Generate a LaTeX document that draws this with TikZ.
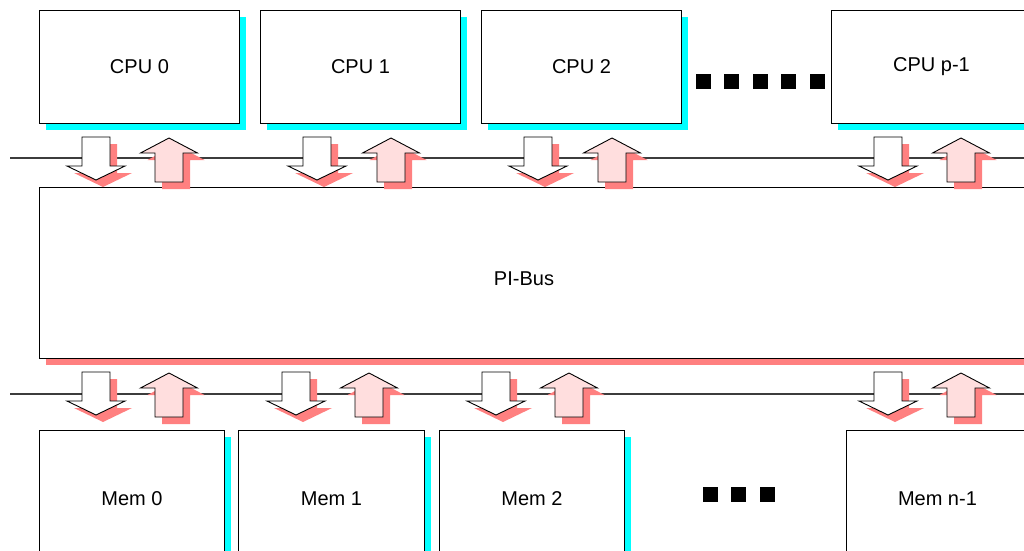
\documentclass[tikz,border=0pt]{standalone}
\usepackage{fontspec}
\setmainfont{Liberation Sans}
\usetikzlibrary{shadows}
\definecolor{shcyan}{RGB}{0,255,255}
\definecolor{shred}{RGB}{255,128,128}
\definecolor{upfill}{RGB}{255,222,222}
\definecolor{busline}{RGB}{60,60,60}
\begin{document}
\begin{tikzpicture}[x=1pt,y=-1pt,
  unitbox/.style={draw=black,line width=0.9pt,fill=white,inner sep=0pt,anchor=north west,
    font=\fontsize{20}{24}\selectfont,
    drop shadow={shadow xshift=7pt,shadow yshift=-7pt,fill=shcyan,opacity=1,draw=none}},
  cpubox/.style={unitbox,minimum width=200pt,minimum height=113pt},
  membox/.style={unitbox,minimum width=185pt,minimum height=136pt},
  busbox/.style={draw=black,line width=0.9pt,fill=white,inner sep=0pt,anchor=north west,
    minimum width=1100pt,minimum height=171pt,
    drop shadow={shadow xshift=7pt,shadow yshift=-7pt,fill=shred,opacity=1,draw=none}},
  busline/.style={draw=busline,line width=1.3pt},
  arrshadow/.style={fill=shred,draw=none},
  downarr/.style={fill=white,draw=black,line width=0.9pt,line join=miter},
  uparr/.style={fill=upfill,draw=black,line width=0.9pt,line join=miter},
  dot/.style={fill=black,draw=none}]
\useasboundingbox (0,0) rectangle (1024,550);
\clip (0,0) rectangle (1024,550);
\fill[white] (0,0) rectangle (1024,550);

% CPU boxes
\node[cpubox] (cpu0) at (39,10) {CPU 0};
\node[cpubox] (cpu1) at (260,10) {CPU 1};
\node[cpubox] (cpu2) at (481,10) {CPU 2};
\node[cpubox] (cpup) at (831,10) {CPU p-1};

% dots between CPUs
\foreach \dx [count=\i] in {703,731.5,760,788.5,817}
  \fill[dot] ({\dx-7.5},73.5) rectangle ({\dx+7.5},88.5);

% PI-Bus
\node[busbox] (pibus) at (39,187) {};
\node[font=\fontsize{20}{24}\selectfont] (pibuslabel) at (524,279) {PI-Bus};

% Mem boxes
\node[membox] (mem0) at (39,430) {Mem 0};
\node[membox,minimum width=186pt] (mem1) at (238,430) {Mem 1};
\node[membox] (mem2) at (439,430) {Mem 2};
\node[membox,minimum width=182pt] (memn) at (846,430) {Mem n-1};

% dots between Mems
\foreach \dx in {710,738.5,767}
  \fill[dot] ({\dx-7.5},487) rectangle ({\dx+7.5},502);

% bus lines
\coordinate (topL) at (10,158);
\coordinate (topR) at (1030,158);
\coordinate (botL) at (10,394);
\coordinate (botR) at (1030,394);
\draw[busline] (topL) -- (topR);
\draw[busline] (botL) -- (botR);

% arrows
\foreach \cx/\ty in {96/137,317/137,538/137,888/137,96/372,296/372,496/372,888/372}{
  \fill[arrshadow,shift={(7,7)}] ({\cx-14},\ty) -- ({\cx+14},\ty) -- ({\cx+14},{\ty+29}) -- ({\cx+29},{\ty+29})
     -- (\cx,{\ty+43}) -- ({\cx-29},{\ty+29}) -- ({\cx-14},{\ty+29}) -- cycle;
}
\foreach \cx/\ty in {169/138,391/138,612/138,961/138,169/373,369/373,569/373,961/373}{
  \fill[arrshadow,shift={(7,7)}] (\cx,\ty) -- ({\cx+28.5},{\ty+15}) -- ({\cx+14},{\ty+15}) -- ({\cx+14},{\ty+44})
     -- ({\cx-14},{\ty+44}) -- ({\cx-14},{\ty+15}) -- ({\cx-28.5},{\ty+15}) -- cycle;
}
\foreach \cx/\ty in {96/137,317/137,538/137,888/137,96/372,296/372,496/372,888/372}{
  \path[downarr] ({\cx-14},\ty) -- ({\cx+14},\ty) -- ({\cx+14},{\ty+29}) -- ({\cx+29},{\ty+29})
     -- (\cx,{\ty+43}) -- ({\cx-29},{\ty+29}) -- ({\cx-14},{\ty+29}) -- cycle;
}
\foreach \cx/\ty in {169/138,391/138,612/138,961/138,169/373,369/373,569/373,961/373}{
  \path[uparr] (\cx,\ty) -- ({\cx+28.5},{\ty+15}) -- ({\cx+14},{\ty+15}) -- ({\cx+14},{\ty+44})
     -- ({\cx-14},{\ty+44}) -- ({\cx-14},{\ty+15}) -- ({\cx-28.5},{\ty+15}) -- cycle;
}
\end{tikzpicture}
\end{document}
